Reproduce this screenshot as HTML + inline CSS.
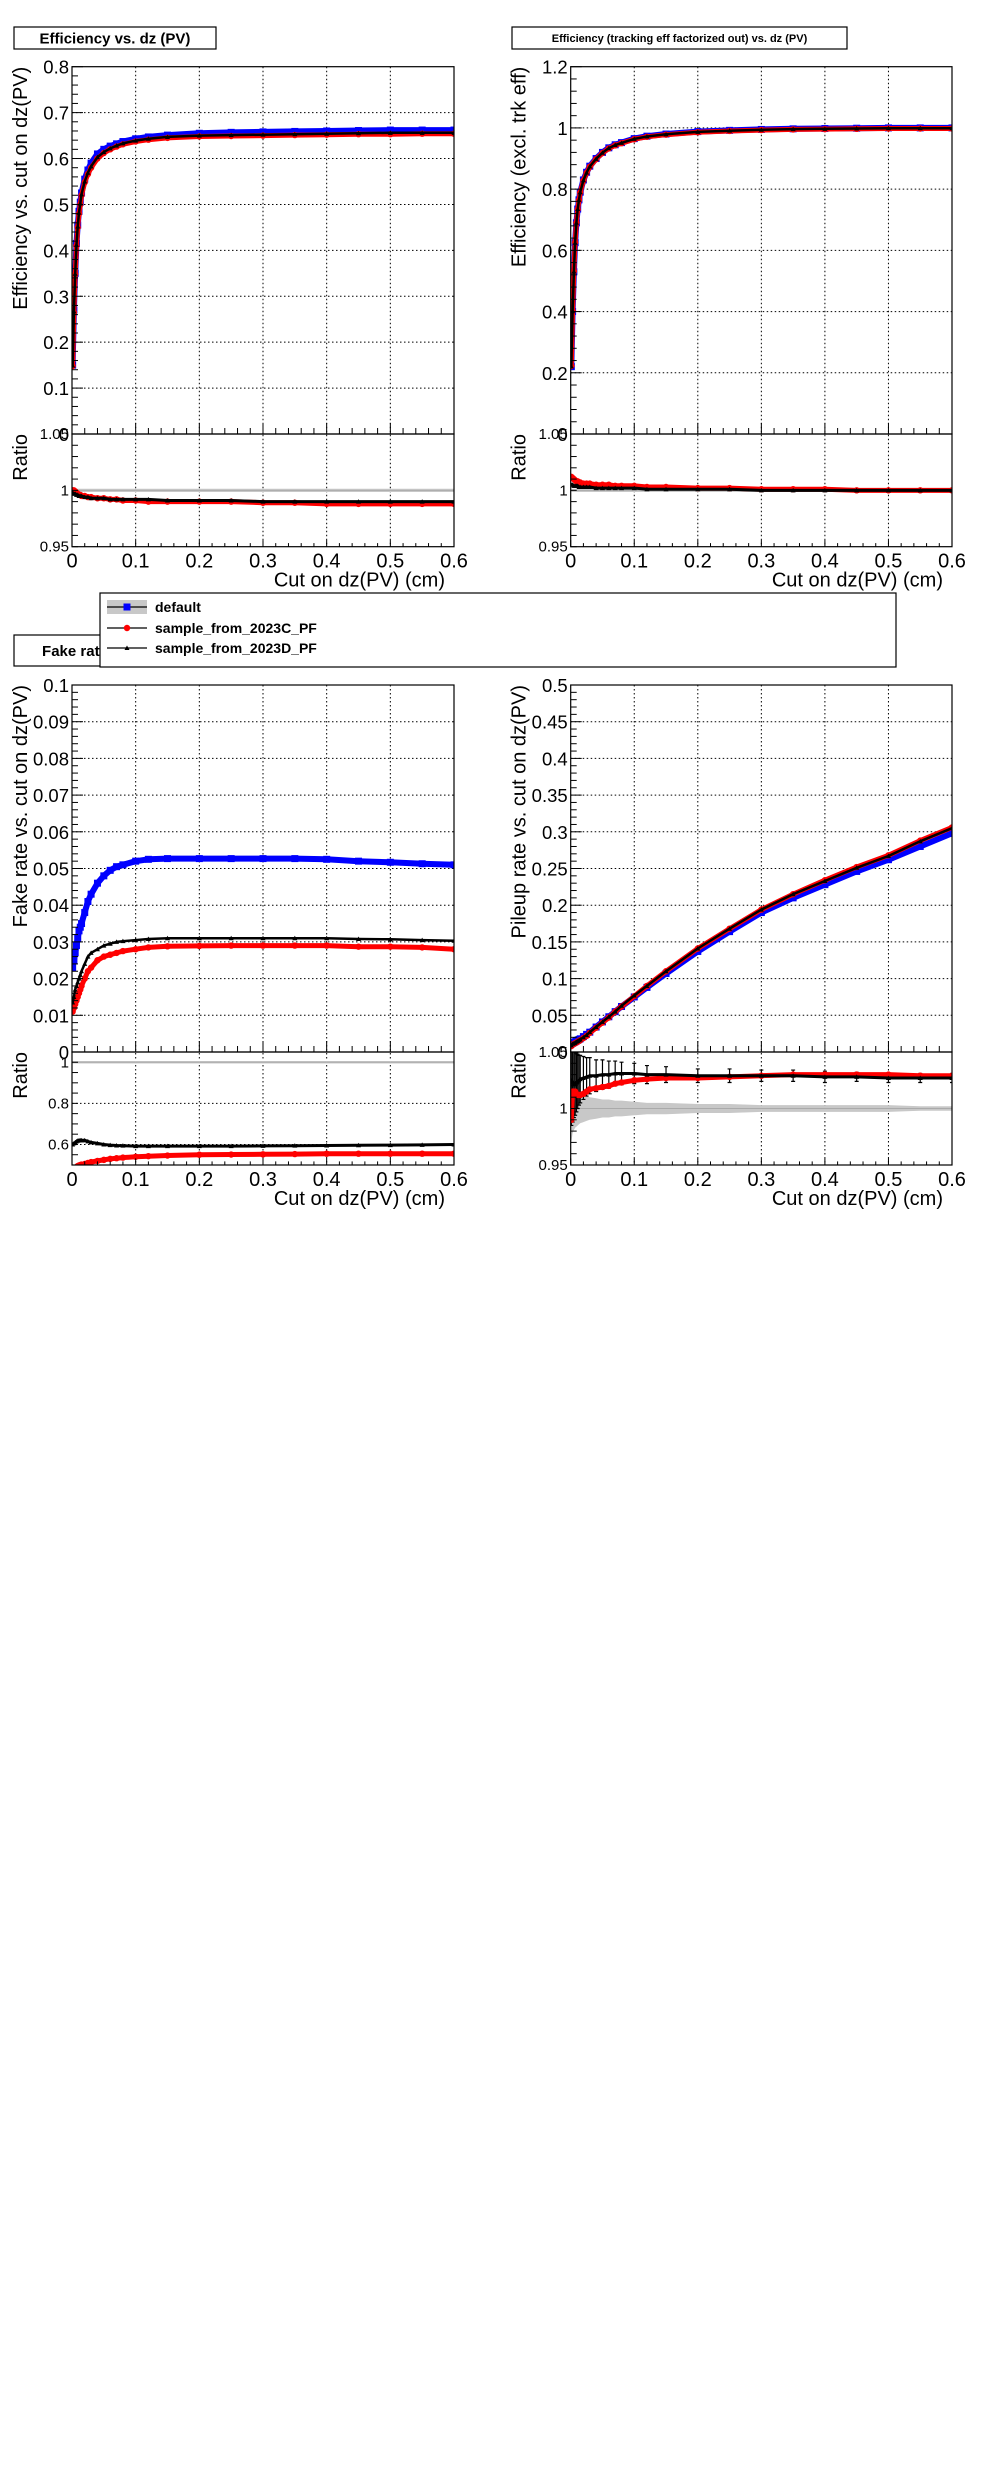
<!DOCTYPE html>
<html><head><meta charset="utf-8">
<style>
html,body{margin:0;padding:0;background:#fff;}
svg{display:block;font-family:"Liberation Sans",Arial,sans-serif;}
</style></head>
<body>
<svg id="root" width="996" height="2472" viewBox="0 0 996 2472" xmlns="http://www.w3.org/2000/svg"></svg>
<script>
// ---------- data ----------
const dzCuts = [0.001,0.003,0.005,0.007,0.009,0.011,0.013,0.015,0.02,0.025,0.03,0.04,0.05,0.06,0.07,0.08,0.1,0.12,0.15,0.2,0.25,0.3,0.35,0.4,0.45,0.5,0.55,0.6];
const xTicks = [0,0.1,0.2,0.3,0.4,0.5,0.6];

const effDefault = [0.15,0.27,0.35,0.415,0.455,0.485,0.505,0.525,0.555,0.575,0.59,0.61,0.62,0.627,0.632,0.637,0.643,0.647,0.651,0.655,0.657,0.658,0.659,0.66,0.661,0.662,0.662,0.662];
const effC = [0.148,0.265,0.348,0.41,0.45,0.48,0.5,0.52,0.548,0.566,0.58,0.6,0.612,0.62,0.626,0.631,0.637,0.641,0.645,0.648,0.649,0.65,0.651,0.652,0.653,0.653,0.654,0.654];
const effD = [0.149,0.267,0.349,0.412,0.452,0.482,0.502,0.522,0.55,0.569,0.583,0.603,0.614,0.622,0.628,0.633,0.639,0.643,0.647,0.65,0.651,0.652,0.653,0.654,0.655,0.656,0.656,0.656];
const effRatioC = [1.0,1.0,0.999,0.998,0.997,0.996,0.996,0.995,0.995,0.994,0.994,0.993,0.993,0.992,0.992,0.991,0.991,0.99,0.99,0.99,0.99,0.989,0.989,0.988,0.988,0.988,0.988,0.988];
const effRatioD = [0.998,0.997,0.997,0.996,0.996,0.995,0.995,0.995,0.994,0.994,0.993,0.993,0.993,0.992,0.992,0.992,0.992,0.992,0.991,0.991,0.991,0.99,0.99,0.99,0.99,0.99,0.99,0.99];
const effTicks = [0,0.1,0.2,0.3,0.4,0.5,0.6,0.7,0.8];

const exclDefault = [0.22,0.4,0.53,0.625,0.69,0.735,0.765,0.79,0.83,0.855,0.875,0.9,0.92,0.935,0.945,0.952,0.965,0.973,0.98,0.988,0.992,0.995,0.997,0.998,0.999,1.0,1.0,1.0];
const exclC = [0.222,0.402,0.532,0.626,0.69,0.734,0.764,0.789,0.828,0.853,0.873,0.898,0.918,0.933,0.943,0.95,0.963,0.971,0.978,0.986,0.99,0.993,0.995,0.996,0.997,0.998,0.998,0.998];
const exclD = [0.221,0.401,0.531,0.625,0.69,0.735,0.765,0.79,0.829,0.854,0.874,0.899,0.919,0.934,0.944,0.951,0.964,0.972,0.979,0.987,0.991,0.994,0.996,0.997,0.998,0.999,0.999,0.999];
const exclRatioC = [1.012,1.011,1.01,1.009,1.008,1.008,1.007,1.007,1.006,1.006,1.006,1.005,1.005,1.005,1.004,1.004,1.004,1.003,1.003,1.002,1.002,1.001,1.001,1.001,1.0,1.0,1.0,1.0];
const exclRatioD = [1.005,1.005,1.004,1.004,1.004,1.004,1.003,1.003,1.003,1.003,1.003,1.002,1.002,1.002,1.002,1.002,1.002,1.001,1.001,1.001,1.001,1.0,1.0,1.0,1.0,1.0,1.0,1.0];
const exclTicks = [0.2,0.4,0.6,0.8,1.0,1.2];

const fakeDefault = [0.023,0.025,0.027,0.029,0.031,0.033,0.034,0.035,0.038,0.041,0.043,0.046,0.048,0.0495,0.0505,0.051,0.052,0.0525,0.0527,0.0527,0.0527,0.0527,0.0527,0.0525,0.052,0.0517,0.0513,0.051];
const fakeC = [0.011,0.012,0.013,0.014,0.015,0.016,0.017,0.018,0.02,0.022,0.023,0.025,0.026,0.0265,0.027,0.0275,0.028,0.0285,0.0288,0.0289,0.029,0.029,0.029,0.029,0.0287,0.0287,0.0285,0.028];
const fakeD = [0.0135,0.015,0.017,0.018,0.019,0.02,0.021,0.022,0.024,0.026,0.027,0.028,0.029,0.0295,0.03,0.0302,0.0305,0.0308,0.031,0.031,0.031,0.031,0.031,0.031,0.0308,0.0307,0.0305,0.0303];
const fakeRatioC = [0.47,0.48,0.485,0.49,0.495,0.498,0.5,0.502,0.505,0.51,0.514,0.52,0.525,0.53,0.533,0.536,0.54,0.543,0.546,0.55,0.551,0.552,0.553,0.555,0.555,0.555,0.555,0.555];
const fakeRatioD = [0.6,0.605,0.61,0.615,0.618,0.62,0.62,0.62,0.62,0.615,0.61,0.605,0.6,0.597,0.595,0.594,0.592,0.592,0.592,0.592,0.592,0.593,0.594,0.595,0.596,0.597,0.598,0.6];
const fakeTicks = [0,0.01,0.02,0.03,0.04,0.05,0.06,0.07,0.08,0.09,0.1];

const puDefault = [0.011,0.012,0.013,0.014,0.015,0.016,0.017,0.018,0.021,0.024,0.027,0.034,0.041,0.048,0.055,0.062,0.075,0.088,0.107,0.137,0.164,0.19,0.21,0.228,0.246,0.262,0.28,0.298];
const puC = [0.008,0.01,0.011,0.012,0.013,0.014,0.015,0.016,0.019,0.022,0.026,0.033,0.04,0.047,0.055,0.062,0.076,0.09,0.11,0.141,0.168,0.194,0.215,0.234,0.252,0.268,0.288,0.306];
const puD = [0.009,0.011,0.012,0.013,0.014,0.015,0.016,0.017,0.02,0.023,0.027,0.034,0.041,0.048,0.055,0.063,0.077,0.09,0.11,0.141,0.168,0.194,0.215,0.233,0.251,0.267,0.287,0.305];
const puRatioC = [0.99,1.015,1.015,1.015,1.013,1.012,1.012,1.012,1.013,1.015,1.017,1.018,1.019,1.02,1.022,1.023,1.025,1.026,1.027,1.027,1.028,1.029,1.03,1.03,1.03,1.03,1.029,1.029];
const puRatioD = [1.025,1.023,1.022,1.022,1.023,1.024,1.025,1.026,1.027,1.028,1.029,1.029,1.03,1.03,1.031,1.031,1.031,1.03,1.03,1.029,1.029,1.029,1.029,1.028,1.028,1.027,1.027,1.027];
const puRatioDErr = [0.04,0.035,0.03,0.028,0.026,0.024,0.022,0.021,0.019,0.017,0.016,0.014,0.013,0.012,0.011,0.01,0.009,0.008,0.007,0.006,0.006,0.005,0.005,0.005,0.004,0.004,0.004,0.004];
const puDefaultErr = [0.03,0.022,0.019,0.017,0.016,0.015,0.014,0.013,0.012,0.011,0.01,0.009,0.008,0.008,0.007,0.007,0.006,0.005,0.005,0.004,0.004,0.003,0.003,0.003,0.003,0.003,0.002,0.002];
const puTicks = [0,0.05,0.1,0.15,0.2,0.25,0.3,0.35,0.4,0.45,0.5];

// ---------- drawing ----------
const NS = "http://www.w3.org/2000/svg";
const root = document.getElementById('root');
function mk(tag, attrs, parent){
  const e = document.createElementNS(NS, tag);
  for (const k in attrs) e.setAttribute(k, attrs[k]);
  (parent||root).appendChild(e);
  return e;
}
function fmt(v){ return String(+v.toFixed(3)); }

function drawPanel(p){
  const g = mk('g', {});
  
  
  const X = v => p.x0 + (v - 0) / 0.6 * (p.x1 - p.x0);
  const Y = v => p.mBot - (v - p.yMin) / (p.yMax - p.yMin) * (p.mBot - p.top);
  const R = v => p.rBot - (v - p.rMin) / (p.rMax - p.rMin) * (p.rBot - p.mBot);
  const clipId = p.name + '-clip', rclipId = p.name + '-rclip';
  const defs = mk('defs', {}, g);
  const c1 = mk('clipPath', {id: clipId}, defs);
  mk('rect', {x:p.x0, y:p.top, width:p.x1-p.x0, height:p.mBot-p.top}, c1);
  const c2 = mk('clipPath', {id: rclipId}, defs);
  mk('rect', {x:p.x0, y:p.mBot, width:p.x1-p.x0, height:p.rBot-p.mBot}, c2);

  const grid = mk('g', {stroke:'#000', 'stroke-width':1, 'stroke-dasharray':'1.5,2.5'}, g);
  
  
  xTicks.forEach(t => {
    if (t > 0 && t < 0.6) mk('line', {x1:X(t), x2:X(t), y1:p.top, y2:p.rBot}, grid);
  });
  p.yTicks.forEach(t => {
    const y = Y(t);
    if (y > p.top + 1 && y < p.mBot - 1) mk('line', {x1:p.x0, x2:p.x1, y1:y, y2:y}, grid);
  });
  p.rGrid.forEach(t => {
    const y = R(t);
    mk('line', {x1:p.x0, x2:p.x1, y1:y, y2:y}, grid);
  });

  const mg = mk('g', {'clip-path':'url(#'+clipId+')'}, g);
  const series = [
    {vals:p.def, color:'#0000ff', w:6, mark:'sq', name:'series-default'},
    {vals:p.c, color:'#ff0000', w:5, mark:'ci', name:'series-2023C'},
    {vals:p.d, color:'#000000', w:2.5, mark:'tr', name:'series-2023D'}
  ];
  series.forEach(s => {
    const sg = mk('g', {}, mg);
    
    
    const pts = dzCuts.map((x,i) => X(x).toFixed(1)+','+Y(s.vals[i]).toFixed(1)).join(' ');
    mk('polyline', {points:pts, fill:'none', stroke:s.color, 'stroke-width':s.w, 'stroke-linejoin':'round'}, sg);
    dzCuts.forEach((x,i) => drawMarker(sg, s.mark, X(x), Y(s.vals[i]), s.color));
  });

  const rg = mk('g', {'clip-path':'url(#'+rclipId+')'}, g);
  
  
  const top = dzCuts.map((x,i) => X(x).toFixed(1)+','+R(1 + p.defErr[i]).toFixed(1));
  const bot = dzCuts.map((x,i) => X(x).toFixed(1)+','+R(1 - p.defErr[i]).toFixed(1)).reverse();
  const band = mk('polygon', {points: top.concat(bot).join(' '), fill:'#c8c8c8'}, rg);
  
  
  mk('line', {x1:p.x0, x2:p.x1, y1:R(1), y2:R(1), stroke:'#aaa', 'stroke-width':1}, rg);
  if (p.dErr) {
    const eg = mk('g', {stroke:'#000', 'stroke-width':1.2}, rg);
    
    
    dzCuts.forEach((x,i) => {
      mk('line', {x1:X(x), x2:X(x), y1:R(p.rd[i]-p.dErr[i]), y2:R(p.rd[i]+p.dErr[i])}, eg);
      mk('line', {x1:X(x)-2, x2:X(x)+2, y1:R(p.rd[i]-p.dErr[i]), y2:R(p.rd[i]-p.dErr[i])}, eg);
      mk('line', {x1:X(x)-2, x2:X(x)+2, y1:R(p.rd[i]+p.dErr[i]), y2:R(p.rd[i]+p.dErr[i])}, eg);
    });
  }
  [{vals:p.rc, color:'#ff0000', w:5, mark:'ci', name:'ratio-2023C'},
   {vals:p.rd, color:'#000000', w:3, mark:'tr', name:'ratio-2023D'}].forEach(s => {
    const sg = mk('g', {}, rg);
    
    
    const pts = dzCuts.map((x,i) => X(x).toFixed(1)+','+R(s.vals[i]).toFixed(1)).join(' ');
    mk('polyline', {points:pts, fill:'none', stroke:s.color, 'stroke-width':s.w}, sg);
    dzCuts.forEach((x,i) => drawMarker(sg, s.mark, X(x), R(s.vals[i]), s.color));
  });

  mk('rect', {x:p.x0, y:p.top, width:p.x1-p.x0, height:p.mBot-p.top, fill:'none', stroke:'#000', 'stroke-width':1.2}, g);
  mk('rect', {x:p.x0, y:p.mBot, width:p.x1-p.x0, height:p.rBot-p.mBot, fill:'none', stroke:'#000', 'stroke-width':1.2}, g);

  const tg = mk('g', {stroke:'#000', 'stroke-width':1}, g);
  for (let k = 0; k <= 30; k++) {
    const x = X(k*0.02), len = (k % 5 === 0) ? 11 : 6;
    mk('line', {x1:x, x2:x, y1:p.mBot, y2:p.mBot-len}, tg);
    mk('line', {x1:x, x2:x, y1:p.rBot, y2:p.rBot-len*0.6}, tg);
  }
  const step = p.yTicks[1] - p.yTicks[0];
  for (let v = p.yMin; v <= p.yMax + 1e-9; v += step/5) {
    const y = Y(v);
    const isMajor = Math.abs(Math.round((v - p.yTicks[0]) / step) * step - (v - p.yTicks[0])) < step*1e-3;
    mk('line', {x1:p.x0, x2:p.x0 + (isMajor ? 11 : 6), y1:y, y2:y}, tg);
  }
  for (let v = p.rMin; v <= p.rMax + 1e-9; v += p.rMinor) {
    const y = R(v);
    mk('line', {x1:p.x0, x2:p.x0 + 6, y1:y, y2:y}, tg);
  }

  const lg = mk('g', {'font-size':20, fill:'#000'}, g);
  
  
  xTicks.forEach(t => {
    const tx = mk('text', {x:X(t), y:p.rBot+21, 'text-anchor':'middle'}, lg);
    tx.textContent = fmt(t);
  });
  p.yTicks.forEach(t => {
    const tx = mk('text', {x:p.x0-3, y:Y(t)+7, 'text-anchor':'end', 'font-size':18.5}, lg);
    tx.textContent = fmt(t);
  });
  p.rLabels.forEach(t => {
    const tx = mk('text', {x:p.x0-3, y:R(t)+5, 'text-anchor':'end', 'font-size':15}, lg);
    tx.textContent = fmt(t);
  });
  const xt = mk('text', {x:p.x1-9, y:p.rBot+40, 'text-anchor':'end', 'font-size':20}, lg);
  
  
  xt.textContent = 'Cut on dz(PV) (cm)';
  const yt = mk('text', {x:0, y:0, 'text-anchor':'end', 'font-size':20, transform:'translate('+(p.x0-45)+','+p.top+') rotate(-90)'}, lg);
  
  
  yt.textContent = p.yTitle;
  const rt = mk('text', {x:0, y:0, 'text-anchor':'end', 'font-size':20, transform:'translate('+(p.x0-45)+','+p.mBot+') rotate(-90)'}, lg);
  
  
  rt.textContent = 'Ratio';

  if (p.title) {
    const tb = mk('g', {}, g);
    
    
    mk('rect', {x:p.tx, y:p.ty, width:p.tw, height:p.th, fill:'#fff', stroke:'#000', 'stroke-width':1.2}, tb);
    const t = mk('text', {x:p.tx+p.tw/2, y:p.ty+p.th/2+p.tfs*0.36, 'text-anchor':'middle', 'font-weight':'bold', 'font-size':p.tfs}, tb);
    t.textContent = p.title;
  }
}

function drawMarker(parent, type, x, y, color){
  if (type === 'sq') mk('rect', {x:x-3.5, y:y-3.5, width:7, height:7, fill:color}, parent);
  else if (type === 'ci') mk('circle', {cx:x, cy:y, r:3.2, fill:color}, parent);
  else mk('polygon', {points:(x-2.5)+','+(y+2)+' '+(x+2.5)+','+(y+2)+' '+x+','+(y-2.5), fill:color}, parent);
}

const effErr = dzCuts.map(() => 0.0015);
drawPanel({name:'efficiency-panel', x0:72, x1:454, top:66.7, mBot:434, rBot:546.7,
  yMin:0, yMax:0.8, yTicks:effTicks, rMin:0.95, rMax:1.05, rGrid:[1], rLabels:[1.05,1,0.95], rMinor:0.01,
  def:effDefault, c:effC, d:effD, rc:effRatioC, rd:effRatioD, defErr:effErr,
  yTitle:'Efficiency vs. cut on dz(PV)', title:'Efficiency vs. dz (PV)', tx:14, ty:27, tw:202, th:22, tfs:15});
drawPanel({name:'efficiency-excl-panel', x0:570.7, x1:952, top:66.7, mBot:434, rBot:546.7,
  yMin:0, yMax:1.2, yTicks:[0].concat(exclTicks), rMin:0.95, rMax:1.05, rGrid:[1], rLabels:[1.05,1,0.95], rMinor:0.01,
  def:exclDefault, c:exclC, d:exclD, rc:exclRatioC, rd:exclRatioD, defErr:effErr,
  yTitle:'Efficiency (excl. trk eff)', title:'Efficiency (tracking eff factorized out) vs. dz (PV)', tx:512, ty:27, tw:335, th:22, tfs:11});
drawPanel({name:'fake-rate-panel', x0:72, x1:454, top:685, mBot:1052, rBot:1165,
  yMin:0, yMax:0.1, yTicks:fakeTicks, rMin:0.5, rMax:1.05, rGrid:[1,0.8,0.6], rLabels:[1,0.8,0.6], rMinor:0.05,
  def:fakeDefault, c:fakeC, d:fakeD, rc:fakeRatioC, rd:fakeRatioD, defErr:dzCuts.map(() => 0.006),
  yTitle:'Fake rate vs. cut on dz(PV)', title:'Fake rate vs. dz (PV)', tx:14, ty:635, tw:202, th:31, tfs:15});
drawPanel({name:'pileup-rate-panel', x0:570.7, x1:952, top:685, mBot:1052, rBot:1165,
  yMin:0, yMax:0.5, yTicks:puTicks, rMin:0.95, rMax:1.05, rGrid:[1], rLabels:[1.05,1,0.95], rMinor:0.01,
  def:puDefault, c:puC, d:puD, rc:puRatioC, rd:puRatioD, defErr:puDefaultErr, dErr:puRatioDErr,
  yTitle:'Pileup rate vs. cut on dz(PV)'});

const leg = mk('g', {});


mk('rect', {x:100, y:593, width:796, height:74, fill:'#fff', stroke:'#000', 'stroke-width':1.2}, leg);
const legNames = ['default','sample_from_2023C_PF','sample_from_2023D_PF'];
const legY = [607, 628, 648];
const legMarks = ['sq','ci','tr'];
const legColors = ['#0000ff','#ff0000','#000000'];
legNames.forEach((nm,i) => {
  const e = mk('g', {}, leg);
  
  
  if (i === 0) mk('rect', {x:107, y:legY[i]-7, width:40, height:14, fill:'#c8c8c8'}, e);
  mk('line', {x1:107, x2:147, y1:legY[i], y2:legY[i], stroke:'#000', 'stroke-width':1.2}, e);
  drawMarker(e, legMarks[i], 127, legY[i], legColors[i]);
  const t = mk('text', {x:155, y:legY[i]+5, 'font-size':14, 'font-weight':'bold'}, e);
  t.textContent = nm;
});
</script>
</body></html>
